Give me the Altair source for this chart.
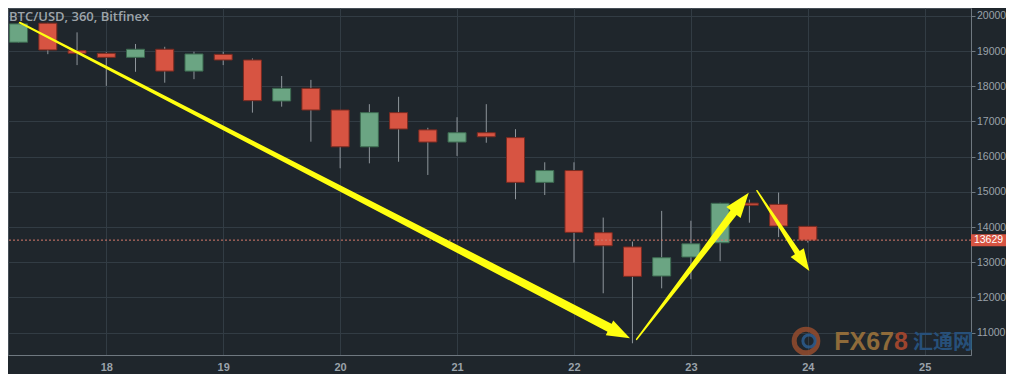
import math
import altair as alt
import pandas as pd

# ---------------- data ----------------
times  = [17.25, 17.5, 17.75, 18.0, 18.25, 18.5, 18.75, 19.0, 19.25, 19.5, 19.75,
          20.0, 20.25, 20.5, 20.75, 21.0, 21.25, 21.5, 21.75, 22.0, 22.25, 22.5,
          22.75, 23.0, 23.25, 23.5, 23.75, 24.0]
opens  = [19250, 19790, 19010, 18935, 18820, 19050, 18430, 18905, 18745, 17580, 17940,
          17325, 16280, 17250, 16760, 16415, 16680, 16540, 15270, 15605, 13840, 13435,
          12610, 13150, 13555, 14680, 14645, 14020]
highs  = [19790, 19800, 19530, 18970, 19200, 19120, 18980, 18980, 18790, 18290, 18180,
          17330, 17490, 17700, 16820, 17120, 17490, 16780, 15840, 15840, 14270, 13590,
          14460, 14180, 14690, 14780, 14980, 14030]
lows   = [19240, 18910, 18600, 18010, 18410, 18100, 18200, 18600, 17250, 17420, 16425,
          15670, 15810, 15855, 15480, 16020, 16395, 14790, 14910, 12990, 12120, 10700,
          12260, 12520, 13030, 14125, 13715, 13560]
closes = [19770, 19030, 18935, 18820, 19050, 18430, 18915, 18745, 17590, 17940, 17325,
          16280, 17250, 16785, 16415, 16680, 16565, 15270, 15605, 13850, 13470, 12600,
          13130, 13525, 14675, 14620, 14030, 13629]

x_ticks = [18, 19, 20, 21, 22, 23, 24, 25]
y_ticks = [11000, 12000, 13000, 14000, 15000, 16000, 17000, 18000, 19000, 20000]
last_price = 13629
title_text = "BTC/USD, 360, Bitfinex"

# yellow hand-drawn arrows (start -> tip, in data units)
arrow_x0 = [17.261, 22.536, 23.565]
arrow_y0 = [19804, 10812, 15033]
arrow_x1 = [22.479, 23.495, 24.013]
arrow_y1 = [10841, 14976, 12752]

# ---------------- layout / style ----------------
W, H = 963, 347
PAD_R, PAD_B = 35, 19
XDOM = [17.2022, 25.3528]
YDOM = [10367.0, 20221.5]
BG = "#1f262c"
GRID = "#323c44"
AXIS = "#6f7880"
LABEL = "#9aa2aa"
UP, DOWN = "#6ba583", "#d75442"
YELLOW = "#ffff10"

shaft_w0 = [2.0, 1.5, 1.5]
shaft_w1 = [9.0, 8.0, 6.0]
head_len = [23.0, 25.0, 22.0]

df = pd.DataFrame({"t": times, "o": opens, "h": highs, "l": lows, "c": closes})
df["dir"] = ["up" if c >= o else "down" for o, c in zip(opens, closes)]

xs = alt.Scale(domain=XDOM, nice=False, zero=False)
ys = alt.Scale(domain=YDOM, nice=False, zero=False)

x_axis = alt.Axis(values=x_ticks, format="d", orient="bottom", title=None,
                  grid=True, gridColor=GRID, gridWidth=1,
                  domain=True, domainColor=AXIS, ticks=False,
                  labelColor=LABEL, labelFont="Liberation Sans", labelFontSize=11,
                  labelFontWeight="bold", labelPadding=6)
y_axis = alt.Axis(values=y_ticks, format="d", orient="right", title=None,
                  grid=True, gridColor=GRID, gridWidth=1,
                  domain=True, domainColor=AXIS, ticks=True, tickColor=AXIS, tickSize=4,
                  labelColor=LABEL, labelFont="Liberation Sans", labelFontSize=10.5,
                  labelPadding=1.5)


def X(field):
    return alt.X(field, scale=xs, axis=x_axis)


def Y(field):
    return alt.Y(field, scale=ys, axis=y_axis)


wicks = alt.Chart(df).mark_rule(color="#8e959b", strokeWidth=1).encode(
    x=X("t:Q"), y=Y("l:Q"), y2="h:Q",
)

bodies = alt.Chart(df).mark_bar(size=18, strokeWidth=1).encode(
    x=X("t:Q"), y=Y("o:Q"), y2="c:Q",
    color=alt.Color("dir:N", scale=alt.Scale(domain=["up", "down"], range=[UP, DOWN]), legend=None),
    stroke=alt.Stroke("dir:N", scale=alt.Scale(domain=["up", "down"], range=["#3c6a50", "#7a2a20"]), legend=None),
)

pdf = pd.DataFrame({"p": [last_price], "lab": [str(last_price)]})
price_line = alt.Chart(pdf).mark_rule(color="#d8796c", strokeDash=[2, 2], strokeWidth=1).encode(
    y=Y("p:Q")
)
price_box = alt.Chart(pdf).mark_rule(color=DOWN, strokeWidth=12).encode(
    x=alt.value(W), x2=alt.value(W + PAD_R), y=Y("p:Q")
)
price_txt = alt.Chart(pdf).mark_text(color="#ffffff", fontSize=10.5, font="Liberation Sans",
                                     align="center", baseline="middle").encode(
    x=alt.value(W + PAD_R / 2), y=Y("p:Q"), text="lab:N"
)

# arrows: tapered shaft (trail) + triangular head (custom symbol)
sx = W / (XDOM[1] - XDOM[0])
sy = H / (YDOM[1] - YDOM[0])
shaft_rows, head_rows = [], []
for i in range(len(arrow_x0)):
    x0, y0, x1, y1 = arrow_x0[i], arrow_y0[i], arrow_x1[i], arrow_y1[i]
    dxp = (x1 - x0) * sx
    dyp = -(y1 - y0) * sy
    L = math.hypot(dxp, dyp)
    f = 1 - 0.75 * head_len[i] / L
    shaft_rows.append({"id": i, "seq": 0, "x": x0, "y": y0, "w": shaft_w0[i]})
    shaft_rows.append({"id": i, "seq": 1, "x": x0 + f * (x1 - x0), "y": y0 + f * (y1 - y0), "w": shaft_w1[i]})
    ang = math.degrees(math.atan2(dxp, -dyp)) % 360
    head_rows.append({"id": i, "x": x1, "y": y1, "ang": ang, "s": head_len[i] ** 2})

shafts = alt.Chart(pd.DataFrame(shaft_rows)).mark_trail(color=YELLOW).encode(
    x=X("x:Q"), y=Y("y:Q"),
    size=alt.Size("w:Q", scale=None),
    detail="id:N",
    order="seq:Q",
)
heads = alt.Chart(pd.DataFrame(head_rows)).mark_point(
    filled=True, opacity=1, color=YELLOW, shape="M0,0L0.72,2L-0.72,2Z", strokeWidth=0
).encode(
    x=X("x:Q"), y=Y("y:Q"),
    angle=alt.Angle("ang:Q", scale=None),
    size=alt.Size("s:Q", scale=None),
)

one = pd.DataFrame({"k": [0]})
title = alt.Chart(one).mark_text(text=title_text, font="Open Sans", fontSize=13, fontWeight=600,
                                 color="#9da4aa", align="left", baseline="middle").encode(
    x=alt.value(1), y=alt.value(9)
)

# watermark
logo_outer = alt.Chart(one).mark_point(shape="circle", filled=False, size=560, strokeWidth=5,
                                       color="#8e4a2e", opacity=0.9).encode(x=alt.value(798), y=alt.value(333))
logo_inner = alt.Chart(one).mark_point(shape="circle", filled=False, size=150, strokeWidth=3,
                                       color="#2c5a8a", opacity=0.9).encode(x=alt.value(801), y=alt.value(333))
wm_fx = alt.Chart(one).mark_text(text="FX67", font="Liberation Sans", fontSize=25, fontWeight="bold",
                                 color="#8f6b3a", align="right", baseline="middle").encode(
    x=alt.value(886), y=alt.value(334))
wm_8 = alt.Chart(one).mark_text(text="8", font="Liberation Sans", fontSize=25, fontWeight="bold",
                                color="#9c452e", align="left", baseline="middle").encode(
    x=alt.value(886), y=alt.value(334))
wm_cn = alt.Chart(one).mark_text(text="汇通网", font="Noto Sans CJK SC", fontSize=20, fontWeight="bold",
                                 color="#27507a", align="left", baseline="middle").encode(
    x=alt.value(905), y=alt.value(335))

chart = alt.layer(
    wicks, bodies, price_line, logo_outer, logo_inner, wm_fx, wm_8, wm_cn,
    shafts, heads, price_box, price_txt, title
).properties(
    width=W, height=H,
    background=BG,
    padding={"left": 0, "top": 0, "right": PAD_R, "bottom": PAD_B},
    autosize=alt.AutoSizeParams(type="none"),
).configure_view(
    fill=BG, stroke="#454e56", strokeWidth=1
)

chart.save("out.html", embed_options={"renderer": "svg", "actions": False})
